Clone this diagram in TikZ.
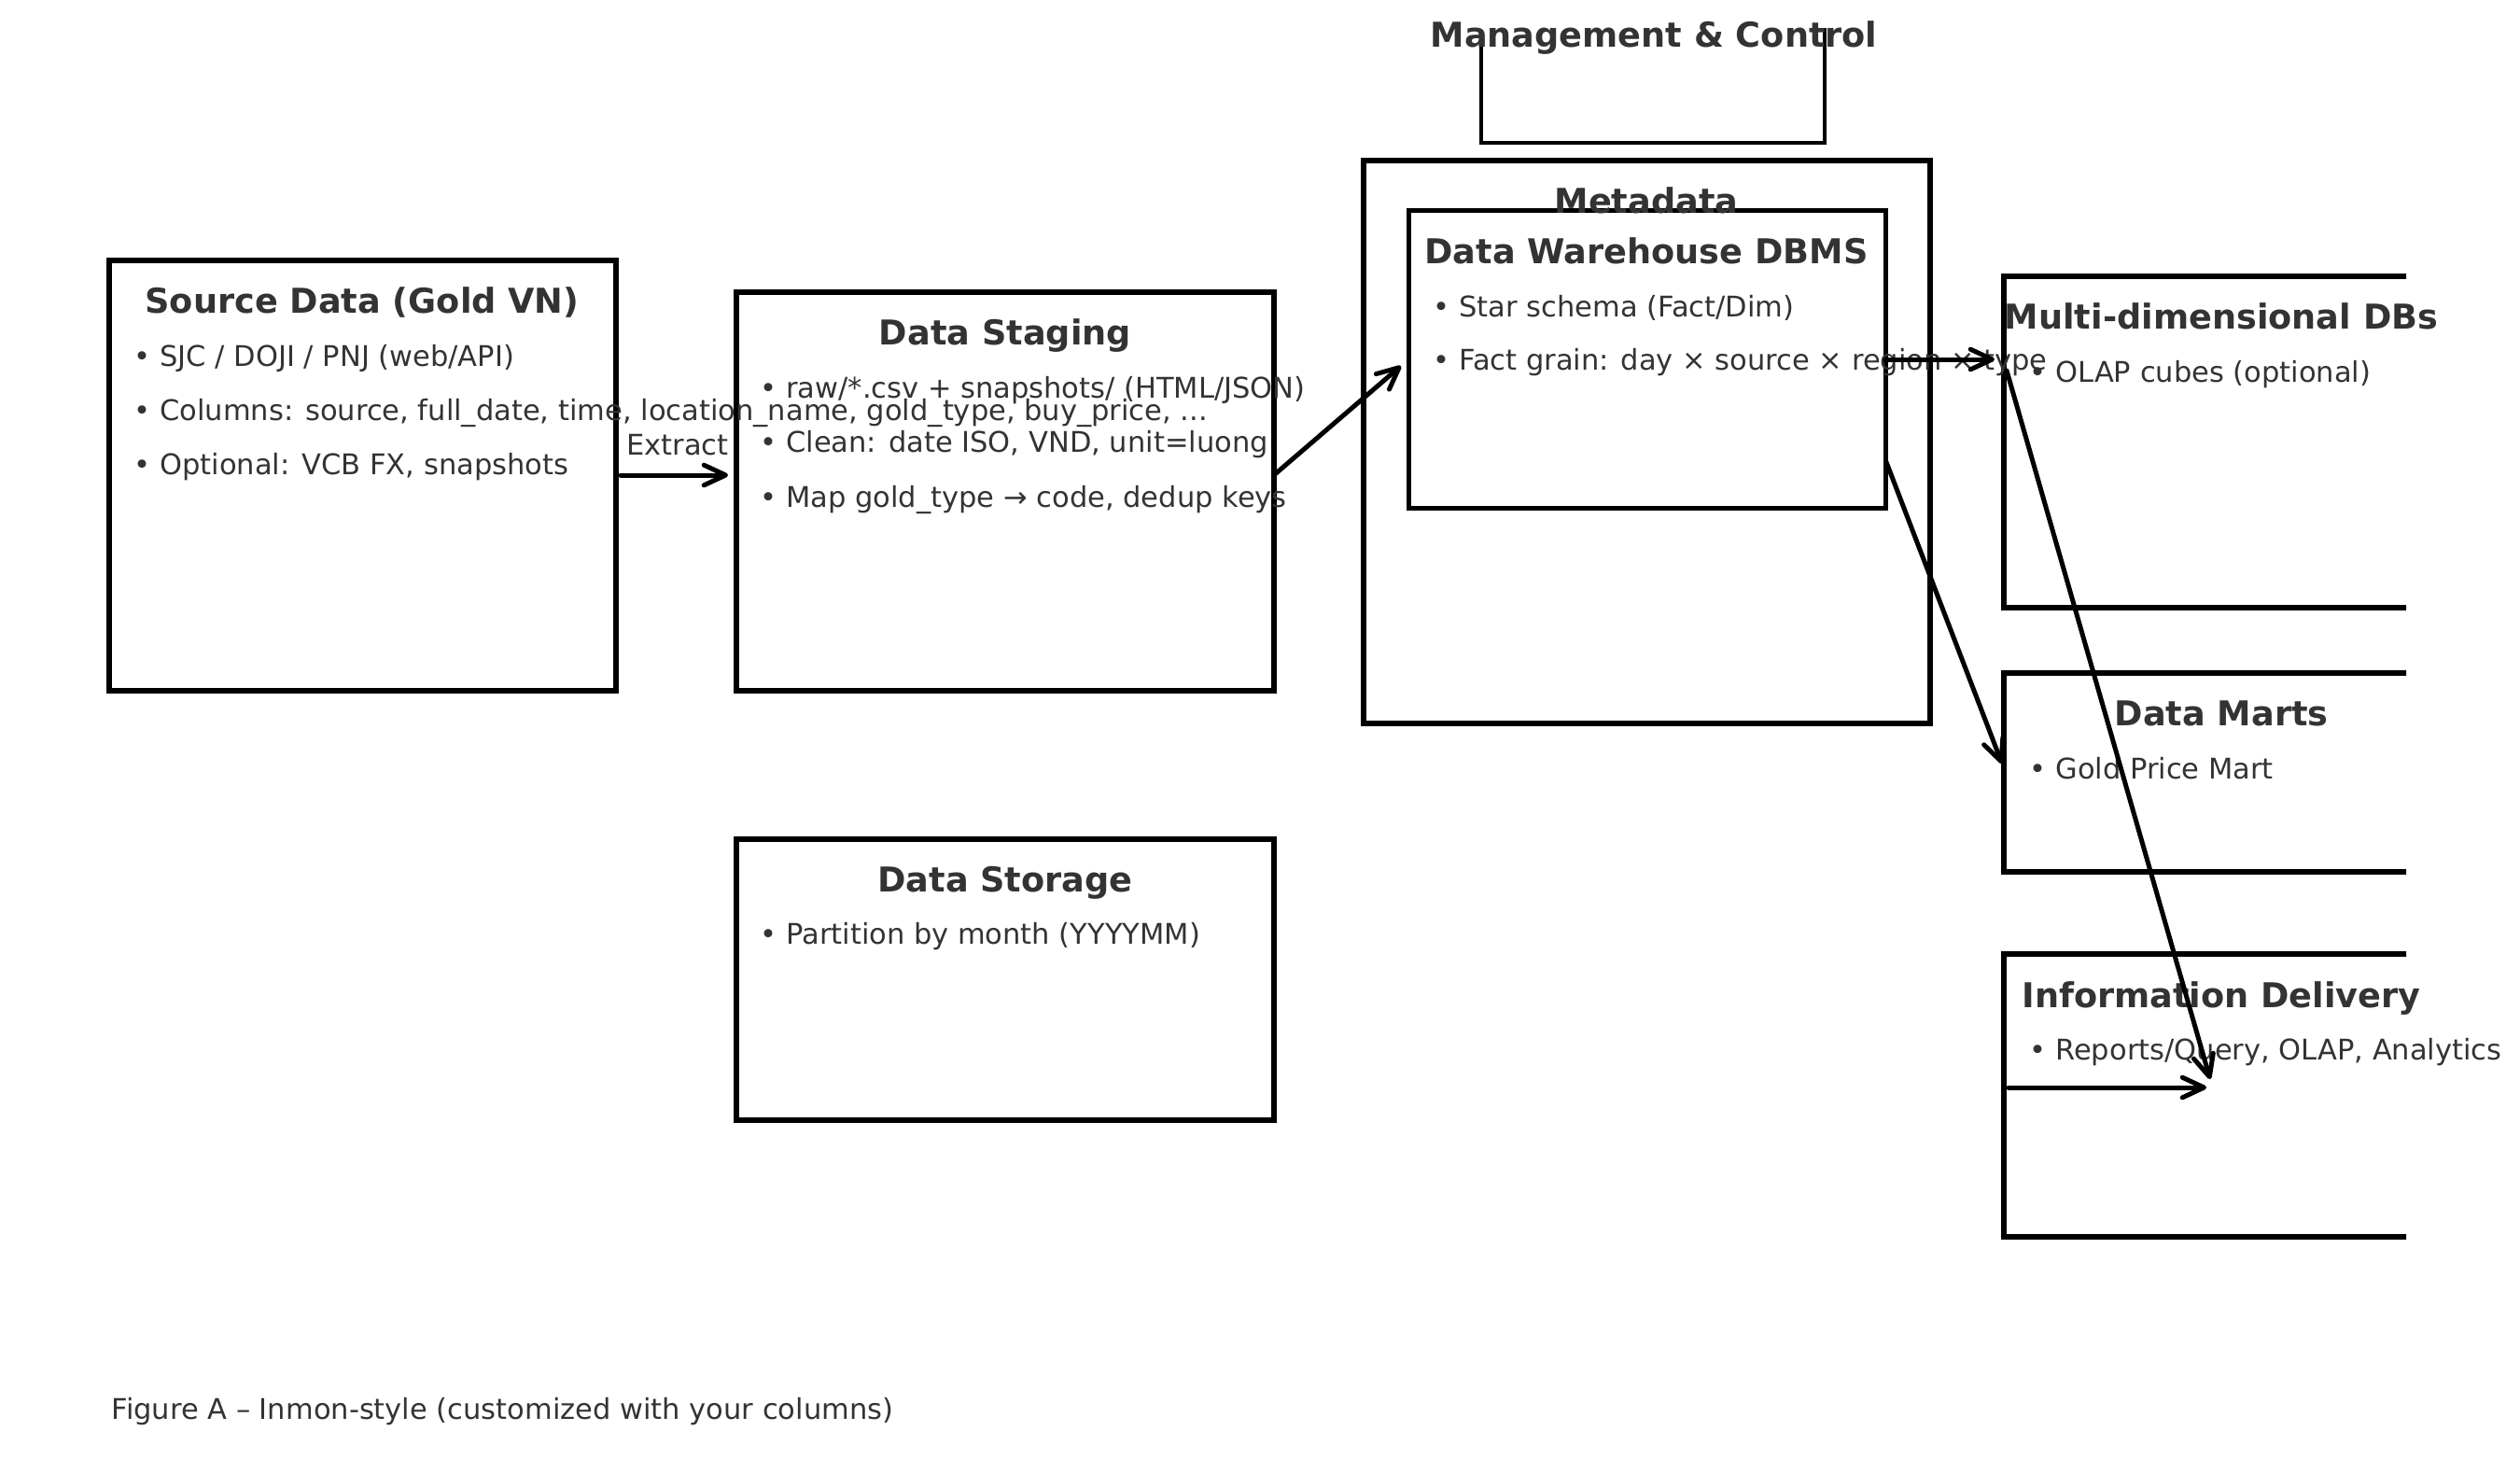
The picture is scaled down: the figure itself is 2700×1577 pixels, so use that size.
\documentclass[tikz,border=0pt]{standalone}
\usepackage{fontspec}
\setmainfont{DejaVu Sans}
\usetikzlibrary{arrows.meta,fit}
\definecolor{txt}{HTML}{333333}
\begin{document}
\begin{tikzpicture}[x=0.3pt,y=-0.3pt,
  box/.style={draw=black, line width=1.8pt, inner sep=0pt, outer sep=0pt},
  innerbox/.style={box, line width=1.5pt},
  openbox/.style={draw=black, line width=1.3pt},
  title/.style={font=\fontsize{11}{13}\selectfont\bfseries, text=txt, inner sep=0pt, anchor=base},
  body/.style={font=\fontsize{9.15}{11}\selectfont, text=txt, inner sep=0pt, anchor=base west},
  flow/.style={draw=black, line width=1.5pt, line cap=round, -{Straight Barb[length=7pt,width=6.5pt,round]}}]
\useasboundingbox (0,0) rectangle (2700,1577);

% boxes
\node[box, fit={(117,279) (660,740)}] (src) {};
\node[box, fit={(789,313) (1365,740)}] (stg) {};
\node[box, fit={(789,899) (1365,1200)}] (sto) {};
\node[box, fit={(1461,172) (2068,775)}] (meta) {};
\node[innerbox, fit={(1509,225) (2020,544)}] (dw) {};
\begin{scope}
  \clip (0,0) rectangle (2578,1577);
  \node[box, fit={(2147,296) (2613,651)}] (mdb) {};
  \node[box, fit={(2147,721) (2613,934)}] (mart) {};
  \node[box, fit={(2147,1022) (2613,1325)}] (info) {};
\end{scope}

% management & control (open box)
\coordinate (mgL) at (1587,50);
\coordinate (mgBL) at (1587,153);
\coordinate (mgBR) at (1955,153);
\coordinate (mgR) at (1955,30);
\draw[openbox] (mgL) -- (mgBL) -- (mgBR) -- (mgR);

% texts
\node[title] (tmg) at (1772,50) {Management \& Control};

\node[title] (tsrc) at (388,335) {Source Data (Gold VN)};
\node[body] (s1) at (143,392) {• SJC / DOJI / PNJ (web/API)};
\node[body] (s2) at (143,450) {• Columns: source, full\_date, time, location\_name, gold\_type, buy\_price, ...};
\node[body] (s3) at (143,508) {• Optional: VCB FX, snapshots};

\node[title] (tstg) at (1077,369) {Data Staging};
\node[body] (g1) at (814,426) {• raw/*.csv + snapshots/ (HTML/JSON)};
\node[body] (g2) at (814,484) {• Clean: date ISO, VND, unit=luong};
\node[body] (g3) at (814,543) {• Map gold\_type → code, dedup keys};

\node[title] (tsto) at (1077,955) {Data Storage};
\node[body] (o1) at (814,1011) {• Partition by month (YYYYMM)};

\node[title] (tmeta) at (1764,228) {Metadata};
\node[title] (tdw) at (1764,282) {Data Warehouse DBMS};
\node[body] (d1) at (1535,339) {• Star schema (Fact/Dim)};
\node[body] (d2) at (1535,396) {• Fact grain: day × source × region × type};

\node[title] (tmdb) at (2380,352) {Multi-dimensional DBs};
\node[body] (m1) at (2174,409) {• OLAP cubes (optional)};
\node[title] (tmart) at (2380,777) {Data Marts};
\node[body] (k1) at (2174,834) {• Gold Price Mart};
\node[title] (tinfo) at (2380,1079) {Information Delivery};
\node[body] (i1) at (2174,1135) {• Reports/Query, OLAP, Analytics};

\node[body] (cap) at (119,1520) {Figure A – Inmon-style (customized with your columns)};

% connectors
\coordinate (a1s) at (665,509);  \coordinate (a1e) at (780,509);
\coordinate (a2s) at (1366,508); \coordinate (a2e) at (1501,392);
\coordinate (a3s) at (2020,385); \coordinate (a3e) at (2137,385);
\coordinate (a4s) at (2021,495); \coordinate (a4e) at (2145,818);
\coordinate (a5s) at (2150,397); \coordinate (a5e) at (2368,1156);
\coordinate (a6s) at (2152,1165); \coordinate (a6e) at (2364,1165);

\draw[flow] (a1s) -- (a1e);
\node[body, anchor=base] (lext) at (726,487) {Extract};
\draw[flow] (a2s) -- (a2e);
\draw[flow] (a3s) -- (a3e);
\draw[flow] (a4s) -- (a4e);
\draw[flow] (a5s) -- (a5e);
\draw[flow] (a6s) -- (a6e);
\end{tikzpicture}
\end{document}
